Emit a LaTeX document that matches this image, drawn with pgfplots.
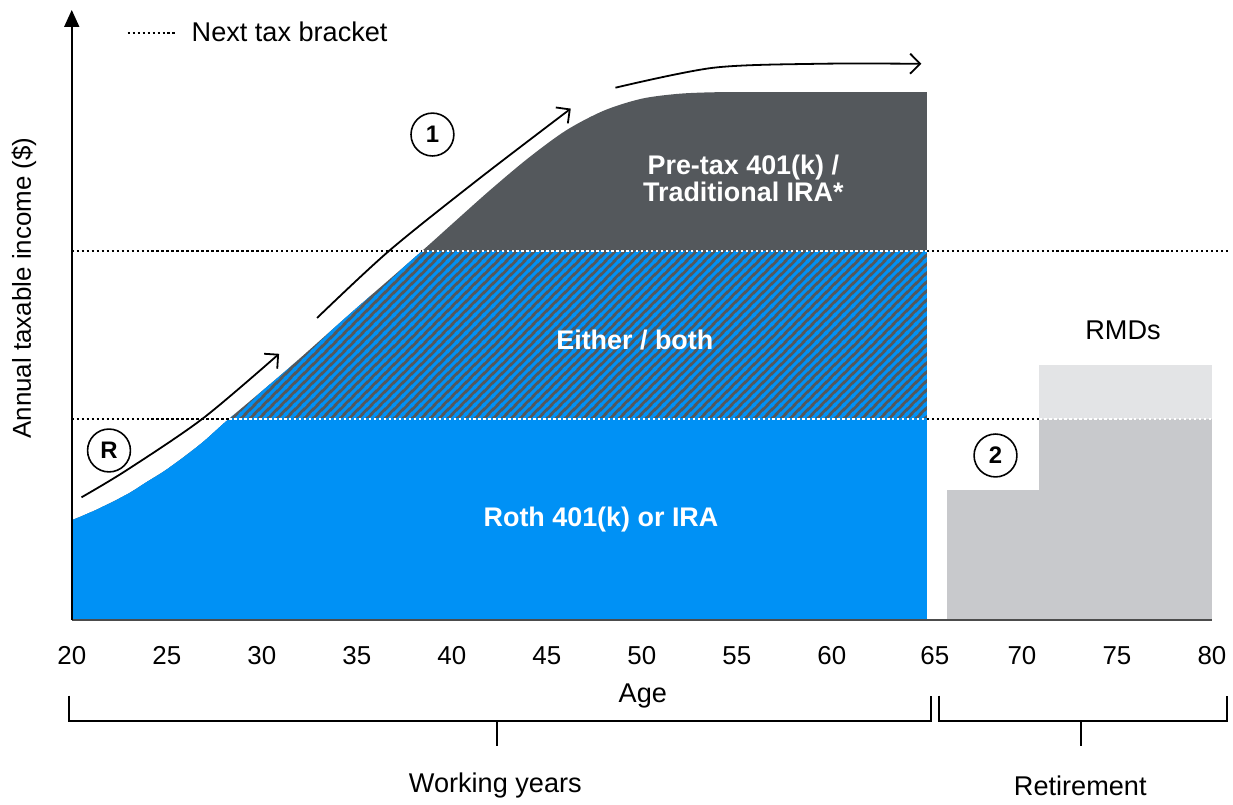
\documentclass[border=0pt]{standalone}
\usepackage{fontspec}
\setmainfont{Liberation Sans}
\usepackage{pgfplots}
\pgfplotsset{compat=1.18}
\usetikzlibrary{arrows.meta, patterns}

\definecolor{rothblue}{HTML}{0091F5}
\definecolor{pretax}{HTML}{54585C}
\definecolor{rmdgray}{HTML}{C8C9CC}
\definecolor{rmdlight}{HTML}{E3E4E6}

% diagonal stripes for the "either / both" band
\pgfdeclarepatternformonly{stripes}{\pgfqpoint{0pt}{0pt}}{\pgfqpoint{4.4pt}{4.4pt}}{\pgfqpoint{4.4pt}{4.4pt}}{%
  \pgfsetlinewidth{1.6pt}%
  \pgfpathmoveto{\pgfqpoint{-1pt}{-1pt}}\pgfpathlineto{\pgfqpoint{5.4pt}{5.4pt}}%
  \pgfpathmoveto{\pgfqpoint{-1pt}{3.4pt}}\pgfpathlineto{\pgfqpoint{1pt}{5.4pt}}%
  \pgfpathmoveto{\pgfqpoint{3.4pt}{-1pt}}\pgfpathlineto{\pgfqpoint{5.4pt}{1pt}}%
  \pgfusepath{stroke}}

\tikzset{
  bracketline/.style={line width=1pt, dash pattern=on 1.2pt off 1.3pt},
  numcircle/.style={draw, circle, line width=0.8pt, minimum size=21.5pt, inner sep=0pt,
    font=\bfseries\fontsize{12}{12}\selectfont},
  inlabel/.style={text=white, font=\bfseries\fontsize{13.5}{14}\selectfont, align=center},
  flow/.style={line width=0.9pt, black, -{Straight Barb[length=5pt, width=10pt]}},
  txt/.style={font=\fontsize{13.6}{16}\selectfont},
}

% income during working years (age, value)
\def\income{(20,100) (21,108) (22,117) (23,127) (24,139) (25,151) (26,165) (27,180)
(28.29,202) (31.26,250) (34.75,309) (38.42,370) (40,397) (42,431) (44,463)
(46,491) (48,511) (50,523) (52,528) (54,529.5) (56,529.5) (65,529.5)}

\begin{document}
\begin{tikzpicture}[font=\fontsize{13}{15.6}\selectfont]
\begin{axis}[
    scale only axis,
    width=572pt, height=306pt,
    xmin=20, xmax=80, ymin=0, ymax=612,
    axis line style={draw=none},
    xtick={20,25,...,80}, ytick=\empty,
    xticklabels={20,25,30,35,40,45,50,55,60,\hspace*{8pt}65,70,75,80},
    major tick length=0pt,
    xticklabel style={anchor=center, yshift=-18pt},
    /pgf/number format/assume math mode=true,
    clip=false,
]
% pre-tax zone: whole area under the curve
\addplot[fill=pretax, draw=none, smooth] coordinates {\income} \closedcycle;
% either / both zone
\begin{scope}
\clip (axis cs:19,0) rectangle (axis cs:65,370);
\addplot[pattern=stripes, pattern color=rothblue, draw=none, smooth] coordinates {\income} \closedcycle;
\end{scope}
% Roth zone
\begin{scope}
\clip (axis cs:19,0) rectangle (axis cs:65,202);
\addplot[fill=rothblue, draw=none, smooth] coordinates {\income} \closedcycle;
\end{scope}

% retirement income (RMDs)
\addplot[fill=rmdlight, draw=none] coordinates {(70.92,256) (80,256)} \closedcycle;
\addplot[fill=rmdgray, draw=none] coordinates {(70.92,202) (80,202)} \closedcycle;
\addplot[fill=rmdgray, draw=none] coordinates {(66.04,130) (70.92,130)} \closedcycle;

% tax bracket lines
\draw[bracketline] (axis cs:20,202) -- (axis cs:28.29,202);
\draw[bracketline] (axis cs:65,202) -- (axis cs:70.92,202);
\draw[bracketline, white] (axis cs:28.29,202) -- (axis cs:65,202);
\draw[bracketline, white] (axis cs:70.92,202) -- (axis cs:80,202);
\draw[bracketline] (axis cs:20,370) -- (axis cs:38.42,370);
\draw[bracketline] (axis cs:65,370) -- (axis cs:80.88,370);
\draw[bracketline, white] (axis cs:38.42,370) -- (axis cs:65,370);

% axes
\draw[line width=1pt, black!70] (axis cs:20,0) -- (axis cs:80,0);
\draw[line width=0.85pt, -{Triangle[length=8.5pt, width=7.5pt]}] (axis cs:20,0) -- (axis cs:20,612);

% arrows along the curve
\addplot[flow, smooth] coordinates {(20.51,123) (22.87,150) (26.89,202) (30.91,267)};
\addplot[flow, smooth] coordinates {(32.91,303) (36.68,370) (41.39,442) (46.26,513)};
\addplot[flow, smooth] coordinates {(48.61,534) (53.76,554) (59.28,558) (64.71,558)};

\node[numcircle] at (axis cs:21.96,170) {R};
\node[numcircle] at (axis cs:38.98,487) {1};
\node[numcircle] at (axis cs:68.61,165) {2};

% labels
\node[inlabel] at (axis cs:55.34,443) {Pre-tax 401(k) /\\Traditional IRA*};
\node[inlabel] at (axis cs:49.63,281) {Either / both};
\node[inlabel] at (axis cs:47.85,101) {Roth 401(k) or IRA};
\node[txt] at (axis cs:75.32,291) {RMDs};

% legend
\draw[bracketline] (axis cs:22.94,589) -- (axis cs:25.56,589);
\node[txt, anchor=base west, inner sep=0pt] at (axis cs:26.29,580) {Next tax bracket};

\node[rotate=90] at (axis cs:17.48,333) {Annual taxable income (\$)};
\node[txt] at (axis cs:50.05,-76) {Age};

% period brackets
\draw[line width=1pt] (axis cs:19.84,-76) -- (axis cs:19.84,-101) -- (axis cs:65.2,-101) -- (axis cs:65.2,-76);
\draw[line width=1pt] (axis cs:42.39,-101) -- (axis cs:42.39,-126);
\draw[line width=1pt] (axis cs:65.62,-76) -- (axis cs:65.62,-101) -- (axis cs:80.77,-101) -- (axis cs:80.77,-76);
\draw[line width=1pt] (axis cs:73.12,-101) -- (axis cs:73.12,-126);
\node[txt] at (axis cs:42.29,-166) {Working years};
\node[txt] at (axis cs:73.07,-166) {Retirement};

% page frame
\path (axis cs:16.224,-179) rectangle (axis cs:80.88,622);
\end{axis}
\end{tikzpicture}
\end{document}
